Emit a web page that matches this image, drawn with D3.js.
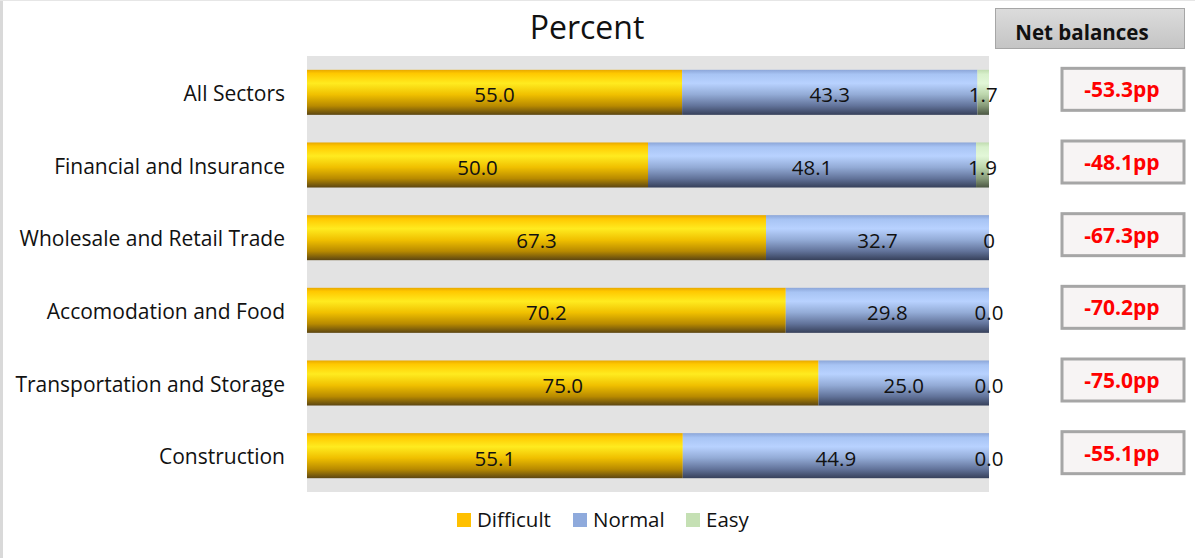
<!DOCTYPE html>
<html>
<head>
<meta charset="utf-8">
<script src="https://cdn.jsdelivr.net/npm/d3@7"></script>
<style>
  html, body { margin: 0; padding: 0; background: #fff; }
  svg { display: block; }
  text { font-family: "Open Sans", "Liberation Sans", sans-serif; }
</style>
</head>
<body>
<svg id="chart" width="1195" height="558"></svg>
<script>
// ---- data ----
const categories = ["All Sectors", "Financial and Insurance", "Wholesale and Retail Trade",
                    "Accomodation and Food", "Transportation and Storage", "Construction"];
const difficult = [55.0, 50.0, 67.3, 70.2, 75.0, 55.1];
const normal    = [43.3, 48.1, 32.7, 29.8, 25.0, 44.9];
const easy      = [1.7, 1.9, 0, 0.0, 0.0, 0.0];
const easyLabels = ["1.7", "1.9", "0", "0.0", "0.0", "0.0"];
const netBalances = ["-53.3pp", "-48.1pp", "-67.3pp", "-70.2pp", "-75.0pp", "-55.1pp"];
const seriesNames = ["Difficult", "Normal", "Easy"];
const legendColors = ["#ffc000", "#8faadc", "#c5e0b4"];

// ---- layout ----
const svg = d3.select("#chart");
const W = 1195, H = 558;
const plot = { left: 307, right: 989, top: 56, bottom: 492 };

const x = d3.scaleLinear().domain([0, 100]).range([plot.left, plot.right]);
const y = d3.scaleBand().domain(categories).range([plot.top, plot.bottom])
  .paddingInner(0.38).paddingOuter(0.19);

// frame decorations
svg.append("rect").attr("x", 0).attr("y", 0).attr("width", 3).attr("height", H).attr("fill", "#d9d9d9");
svg.append("rect").attr("x", 0).attr("y", 0).attr("width", W).attr("height", 1).attr("fill", "#e6e6e6");

// gradients
const defs = svg.append("defs");
function grad(id, stops) {
  const g = defs.append("linearGradient").attr("id", id)
    .attr("x1", 0).attr("y1", 0).attr("x2", 0).attr("y2", 1);
  stops.forEach(s => g.append("stop").attr("offset", s[0]).attr("stop-color", s[1]));
}
grad("gDifficult", [[0, "#e8a800"], [0.08, "#ffc800"], [0.3, "#ffeb1f"], [0.55, "#f0c000"], [0.8, "#b88a00"], [1, "#5c4612"]]);
grad("gNormal", [[0, "#8ca6d8"], [0.1, "#a8c4f4"], [0.3, "#b8d2ff"], [0.55, "#93abd6"], [0.8, "#62739a"], [1, "#36405a"]]);
grad("gEasy", [[0, "#c0dcb0"], [0.1, "#d8f0cc"], [0.3, "#e2f7d8"], [0.55, "#bcd6ac"], [0.8, "#869a78"], [1, "#4a5642"]]);
grad("gHeader", [[0, "#dcdcdc"], [1, "#c4c4c4"]]);

// plot background
svg.append("rect").attr("x", plot.left).attr("y", plot.top)
  .attr("width", plot.right - plot.left).attr("height", plot.bottom - plot.top)
  .attr("fill", "#e3e3e3");

// stacked data
const rows = categories.map((c, i) => ({ cat: c, Difficult: difficult[i], Normal: normal[i], Easy: easy[i] }));
const stack = d3.stack().keys(seriesNames)(rows);
const fills = { Difficult: "url(#gDifficult)", Normal: "url(#gNormal)", Easy: "url(#gEasy)" };

stack.forEach(layer => {
  svg.append("g").selectAll("rect").data(layer).join("rect")
    .attr("x", d => x(d[0]))
    .attr("y", d => y(d.data.cat))
    .attr("width", d => Math.max(0, x(d[1]) - x(d[0])))
    .attr("height", y.bandwidth())
    .attr("fill", fills[layer.key]);
});

// data labels
const labelSize = 20.5;
stack.forEach(layer => {
  svg.append("g").selectAll("text").data(layer).join("text")
    .attr("x", d => (x(d[0]) + x(d[1])) / 2)
    .attr("y", d => y(d.data.cat) + y.bandwidth() / 2 + 10)
    .attr("text-anchor", "middle")
    .attr("font-size", labelSize)
    .attr("fill", "#111")
    .text((d, i) => layer.key === "Easy" ? easyLabels[i] : d3.format(".1f")(d[1] - d[0]));
});

// category axis
const yAxis = d3.axisLeft(y).tickSize(0).tickPadding(22);
const ax = svg.append("g").attr("transform", `translate(${plot.left},2)`).call(yAxis);
ax.select(".domain").remove();
ax.selectAll("text").attr("font-size", 21).attr("fill", "#111")
  .attr("font-family", "\"Open Sans\", sans-serif").attr("dy", "0.32em");

// title
svg.append("text").attr("x", 587).attr("y", 39).attr("text-anchor", "middle")
  .attr("font-size", 32).attr("fill", "#111").text("Percent");

// net balances header
svg.append("rect").attr("x", 995.5).attr("y", 8.5).attr("width", 189).attr("height", 40)
  .attr("fill", "url(#gHeader)").attr("stroke", "#a6a6a6").attr("stroke-width", 1);
svg.append("text").attr("x", 1082).attr("y", 40).attr("text-anchor", "middle")
  .attr("font-size", 20.5).attr("font-weight", "bold").attr("fill", "#111").text("Net balances");

// net balance boxes
const nb = svg.append("g").selectAll("g").data(categories).join("g")
  .attr("transform", c => `translate(1062, ${y(c) + y.bandwidth() / 2 - 3})`);
nb.append("rect").attr("x", 0).attr("y", -21).attr("width", 122).attr("height", 42)
  .attr("fill", "#f7f4f4").attr("stroke", "#a6a6a6").attr("stroke-width", 3);
nb.append("text").attr("x", 60).attr("y", 8).attr("text-anchor", "middle")
  .attr("font-size", 21).attr("font-weight", "bold").attr("fill", "#ff0000")
  .text((c, i) => netBalances[i]);

// legend
const legendX = [457, 573, 686];
const lg = svg.append("g").selectAll("g").data(seriesNames).join("g")
  .attr("transform", (d, i) => `translate(${legendX[i]}, 513)`);
lg.append("rect").attr("width", 14).attr("height", 14).attr("fill", (d, i) => legendColors[i]);
lg.append("text").attr("x", 20).attr("y", 14).attr("font-size", 20.5).attr("fill", "#111").text(d => d);
</script>
</body>
</html>
